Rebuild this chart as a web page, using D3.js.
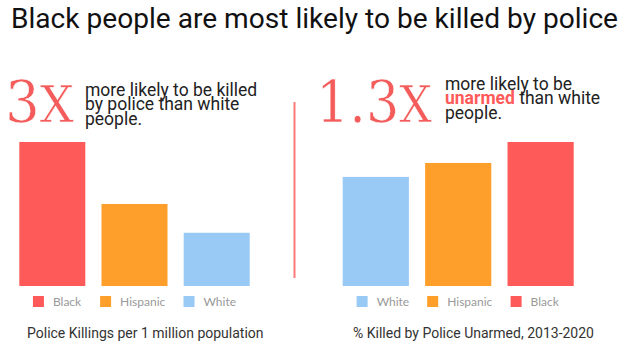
<!DOCTYPE html>
<html>
<head>
<meta charset="utf-8">
<script src="https://cdn.jsdelivr.net/npm/d3@7"></script>
<style>
  html, body { margin: 0; padding: 0; background: #fff; }
  svg { display: block; }
</style>
</head>
<body>
<svg id="chart" width="624" height="349"></svg>
<script>
// Police killings per 1 million population, by race
const killingsGroups = ["Black", "Hispanic", "White"];
const killingsValues = [6.6, 3.76, 2.44];

// Share of people killed by police who were unarmed, 2013-2020 (%)
const unarmedGroups = ["White", "Hispanic", "Black"];
const unarmedValues = [12.5, 14.1, 16.5];

const groupColors = { Black: "#ff5a5a", Hispanic: "#ff9f2b", White: "#99c9f5" };

const svg = d3.select("#chart");

// Headline
svg.append("text")
  .attr("x", 11).attr("y", 28)
  .attr("font-family", "Roboto").attr("font-size", 28.1)
  .attr("fill", "#111")
  .text("Black people are most likely to be killed by police");

// Divider between the two panels
svg.append("line")
  .attr("x1", 294.5).attr("x2", 294.5)
  .attr("y1", 102).attr("y2", 278)
  .attr("stroke", "#ff7878").attr("stroke-width", 2);

function bigFigure(x, y, digits, len) {
  const t = svg.append("text")
    .attr("x", x).attr("y", y)
    .attr("font-family", "DejaVu Serif")
    .attr("fill", "#f45c5c")
    .attr("stroke", "#fff").attr("stroke-width", 0.6)
    .attr("textLength", len).attr("lengthAdjust", "spacingAndGlyphs");
  t.append("tspan").attr("font-size", 57.6).text(digits);
  t.append("tspan").attr("font-size", 50.5).text("X");
}

function note(x, y, lines) {
  const t = svg.append("text")
    .attr("font-family", "Roboto").attr("font-size", 17.5)
    .attr("fill", "#222");
  lines.forEach((parts, i) => {
    parts.forEach((p, j) => {
      const s = t.append("tspan").text(p.text);
      if (j === 0) s.attr("x", x).attr("y", y + i * 14.5);
      if (p.strong) s.attr("font-weight", 700).attr("fill", "#ff5a5a");
    });
  });
}

function panel(groups, values, x0, x1, caption, captionX) {
  const top = 142, bottom = 286;
  const x = d3.scaleBand().domain(groups).range([x0, x1])
    .paddingInner(0.197).paddingOuter(0);
  const y = d3.scaleLinear().domain([0, d3.max(values)]).range([bottom, top]);

  svg.append("g").selectAll("rect")
    .data(groups.map((g, i) => ({ g, v: values[i] })))
    .join("rect")
    .attr("x", d => x(d.g))
    .attr("y", d => y(d.v))
    .attr("width", x.bandwidth())
    .attr("height", d => y(0) - y(d.v))
    .attr("fill", d => groupColors[d.g]);

  // Legend, centred under the bars
  const legend = svg.append("g");
  const items = legend.selectAll("g").data(groups).join("g");
  items.append("rect")
    .attr("width", 11).attr("height", 11)
    .attr("y", 296)
    .attr("fill", d => groupColors[d]);
  items.append("text")
    .attr("x", 20).attr("y", 305.5)
    .attr("font-family", "Lato").attr("font-size", 12)
    .attr("fill", "#999")
    .text(d => d);
  let cx = 0;
  items.each(function () {
    d3.select(this).attr("transform", `translate(${cx},0)`);
    cx += this.getBBox().width + 18;
  });
  const total = cx - 18;
  const mid = (x0 + x1) / 2;
  legend.attr("transform", `translate(${mid - total / 2},0)`);

  svg.append("text")
    .attr("x", captionX).attr("y", 337.5)
    .attr("font-family", "Roboto").attr("font-size", 14)
    .attr("fill", "#333")
    .text(caption);
}

bigFigure(5, 122, "3", 69);
note(85, 95.5, [
  [{ text: "more likely to be killed" }],
  [{ text: "by police than white" }],
  [{ text: "people." }]
]);

bigFigure(316, 122, "1.3", 116);
note(445, 89.5, [
  [{ text: "more likely to be" }],
  [{ text: "unarmed", strong: true }, { text: " than white" }],
  [{ text: "people." }]
]);

panel(killingsGroups, killingsValues, 19.3, 249.7,
  "Police Killings per 1 million population", 27);
panel(unarmedGroups, unarmedValues, 342.7, 573.7,
  "% Killed by Police Unarmed, 2013-2020", 353);
</script>
</body>
</html>
